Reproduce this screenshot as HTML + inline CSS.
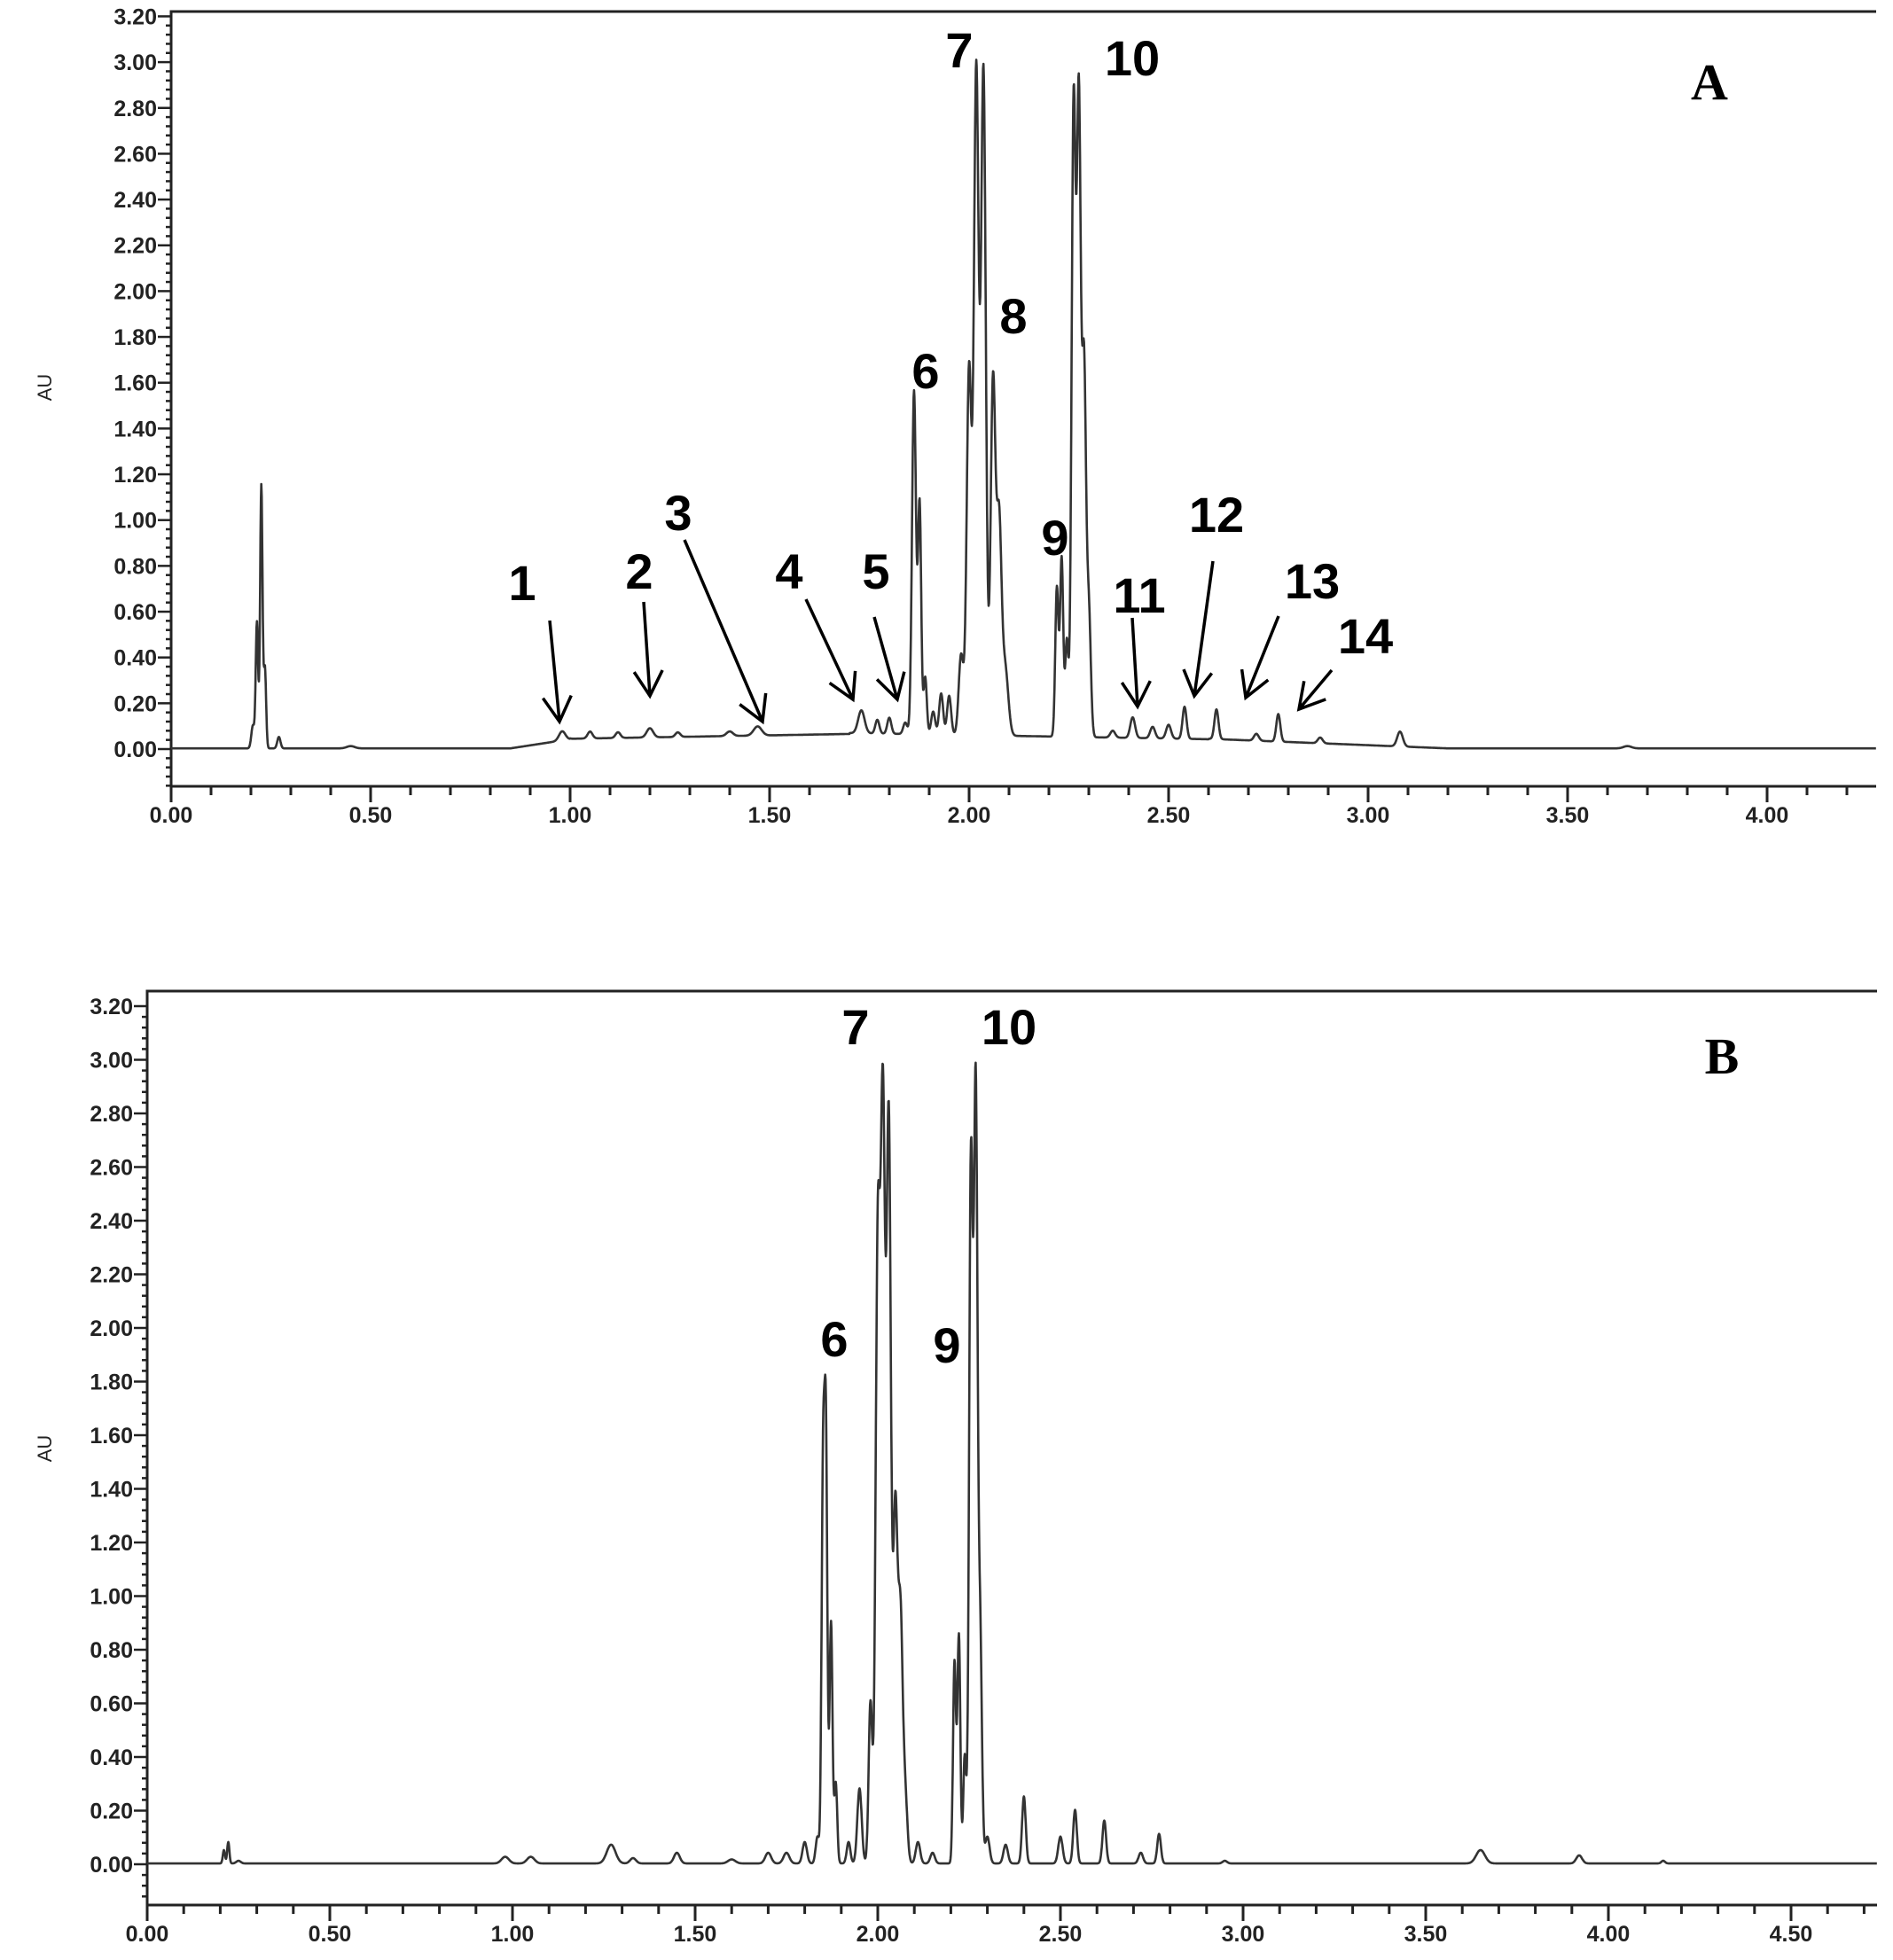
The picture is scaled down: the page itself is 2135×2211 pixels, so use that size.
<!DOCTYPE html>
<html><head><meta charset="utf-8">
<style>
html,body{margin:0;padding:0;background:#fff;}
svg{display:block;}
.tl{font-family:"Liberation Sans",sans-serif;font-weight:bold;font-size:25px;fill:#222;}
.pk{font-family:"Liberation Sans",sans-serif;font-weight:bold;font-size:56px;fill:#000;}
.pl{font-family:"Liberation Serif",serif;font-weight:bold;font-size:58px;fill:#000;}
</style></head>
<body>
<svg id="s" width="2135" height="2211" viewBox="0 0 2135 2211" xmlns="http://www.w3.org/2000/svg">
<g id="g"></g>
<text class="pk" x="589" y="677" text-anchor="middle">1</text>
<text class="pk" x="721" y="664" text-anchor="middle">2</text>
<text class="pk" x="765" y="598" text-anchor="middle">3</text>
<text class="pk" x="890" y="664" text-anchor="middle">4</text>
<text class="pk" x="988" y="664" text-anchor="middle">5</text>
<text class="pk" x="1044" y="438" text-anchor="middle">6</text>
<text class="pk" x="1082" y="76" text-anchor="middle">7</text>
<text class="pk" x="1143" y="376" text-anchor="middle">8</text>
<text class="pk" x="1190" y="626" text-anchor="middle">9</text>
<text class="pk" x="1277" y="85" text-anchor="middle">10</text>
<text class="pk" x="1285" y="691" text-anchor="middle">11</text>
<text class="pk" x="1372" y="600" text-anchor="middle">12</text>
<text class="pk" x="1480" y="675" text-anchor="middle">13</text>
<text class="pk" x="1540" y="737" text-anchor="middle">14</text>
<text class="pl" x="1928" y="112" text-anchor="middle">A</text>
<text class="pk" x="941" y="1530" text-anchor="middle">6</text>
<text class="pk" x="965" y="1178" text-anchor="middle">7</text>
<text class="pk" x="1138" y="1178" text-anchor="middle">10</text>
<text class="pk" x="1068" y="1537" text-anchor="middle">9</text>
<text class="pl" x="1942" y="1211" text-anchor="middle">B</text>
</svg>
<script>
(function(){
var g=document.getElementById('g');var NS='http://www.w3.org/2000/svg';
function el(n,a,t){var e=document.createElementNS(NS,n);for(var k in a)e.setAttribute(k,a[k]);if(t!==undefined)e.textContent=t;g.appendChild(e);return e;}
function panel(P){
 var X=function(t){return P.x0+P.kx*t;},Y=function(v){return P.y0-P.ky*v;};
 el('path',{d:'M'+P.x0+' '+P.bot+' V'+P.top+' H'+P.xr+' M'+P.x0+' '+P.bot+' H'+P.xr,stroke:'#222','stroke-width':3,fill:'none'});
 for(var i=-4;i<=80;i++){var v=i*0.04;var y=Y(v);if(y>P.bot+1||y<P.top-1)continue;
  var maj=(i%5===0);el('line',{x1:P.x0-(maj?15:6),x2:P.x0,y1:y,y2:y,stroke:'#222','stroke-width':2.5});
  if(maj&&v>=-0.001){el('text',{'class':'tl',x:P.x0-16,y:y+9,'text-anchor':'end'},v.toFixed(2));}}
 for(var i=0;i<=50;i++){var t=i*0.1;var x=X(t);if(x>P.xr+1)break;var maj=(i%5===0);
  el('line',{x1:x,x2:x,y1:P.bot,y2:P.bot+(maj?18:10),stroke:'#222','stroke-width':3});
  if(maj)el('text',{'class':'tl',x:x,y:P.bot+41,'text-anchor':'middle'},t.toFixed(2));}
 el('text',{'class':'tl',x:0,y:0,transform:'translate(58,'+P.auy+') rotate(-90)','text-anchor':'middle',style:'font-weight:normal;font-size:22px'},'AU');
 var d='';var tmax=(P.xr-P.x0)/P.kx;
 for(var t=0;t<=tmax;t+=0.001){var v=P.base(t);
  for(var j=0;j<P.pk.length;j++){var p=P.pk[j];var z=(t-p[0])/p[2];if(Math.abs(z)<6)v+=p[1]*Math.exp(-0.5*z*z);}
  d+=(d?'L':'M')+X(t).toFixed(1)+' '+Y(v).toFixed(1);}
 el('path',{d:d,stroke:'#333','stroke-width':2.6,fill:'none','stroke-linejoin':'round'});
}
var A={x0:193,kx:450,y0:845,ky:258.3,top:13,bot:887,xr:2116,auy:437,
 base:function(t){if(t<0.85)return 0.003;if(t<1.0)return 0.003+(t-0.85)/0.15*0.04;if(t<1.7)return 0.045+ (t-1)*0.03;if(t<2.6)return 0.07-(t-1.7)*0.03;if(t<3.2)return 0.045-(t-2.6)*0.07;return 0.003;},
 pk:[[0.205,0.1,0.004],[0.215,0.55,0.003],[0.226,1.15,0.003],[0.235,0.35,0.003],[0.27,0.05,0.004],[0.45,0.01,0.01],
 [0.98,0.04,0.008],[1.05,0.03,0.006],[1.12,0.025,0.006],[1.2,0.04,0.008],[1.27,0.02,0.006],[1.4,0.02,0.008],[1.47,0.04,0.01],
 [1.73,0.1,0.008],[1.77,0.06,0.005],[1.8,0.07,0.005],[1.84,0.05,0.005],
 [1.862,1.5,0.005],[1.876,1.0,0.004],[1.89,0.25,0.004],[1.91,0.1,0.005],[1.93,0.18,0.005],[1.95,0.17,0.005],[1.98,0.35,0.006],
 [2.0,1.6,0.006],[2.018,2.9,0.006],[2.036,2.9,0.006],[2.06,1.55,0.006],[2.075,0.9,0.006],[2.09,0.3,0.008],
 [2.22,0.65,0.004],[2.232,0.78,0.004],[2.245,0.42,0.004],[2.262,2.75,0.005],[2.275,2.75,0.005],[2.288,1.6,0.005],[2.3,0.55,0.005],
 [2.36,0.03,0.006],[2.41,0.09,0.006],[2.46,0.05,0.006],[2.5,0.06,0.006],[2.54,0.14,0.005],[2.62,0.13,0.005],[2.72,0.03,0.006],[2.775,0.12,0.005],[2.88,0.025,0.006],[3.08,0.065,0.007],[3.65,0.01,0.01]]};
var B={x0:166,kx:412,y0:2103,ky:302.5,top:1118,bot:2149,xr:2117,auy:1634,
 base:function(t){return 0.003;},
 pk:[[0.21,0.05,0.003],[0.222,0.08,0.003],[0.25,0.01,0.006],[0.98,0.025,0.01],[1.05,0.025,0.01],[1.27,0.07,0.012],[1.33,0.02,0.008],[1.45,0.04,0.008],[1.6,0.015,0.01],
 [1.7,0.04,0.008],[1.75,0.04,0.008],[1.8,0.08,0.006],[1.835,0.1,0.005],
 [1.85,1.4,0.004],[1.858,1.55,0.004],[1.872,0.9,0.004],[1.885,0.3,0.004],[1.92,0.08,0.005],[1.95,0.28,0.006],[1.98,0.6,0.005],
 [2.0,2.3,0.006],[2.014,2.75,0.006],[2.03,2.75,0.006],[2.048,1.3,0.006],[2.062,0.9,0.006],[2.075,0.25,0.006],[2.11,0.08,0.006],[2.15,0.04,0.006],
 [2.21,0.75,0.004],[2.222,0.85,0.004],[2.238,0.4,0.004],[2.255,2.6,0.005],[2.268,2.85,0.005],[2.28,0.85,0.005],[2.3,0.1,0.006],
 [2.35,0.07,0.006],[2.4,0.25,0.005],[2.5,0.1,0.006],[2.54,0.2,0.005],[2.62,0.16,0.005],[2.72,0.04,0.006],[2.77,0.11,0.005],[2.95,0.01,0.006],[3.65,0.05,0.012],[3.92,0.03,0.008],[4.15,0.01,0.005]]};
panel(A);panel(B);
var arr=[[620,700,631,814],[726,679,733,785],[772,609,860,814],[909,676,962,789],[986,696,1012,789],[1277,697,1283,797],[1368,633,1347,785],[1442,695,1405,787],[1502,756,1465,800]];
arr.forEach(function(a){var dx=a[2]-a[0],dy=a[3]-a[1],L=Math.sqrt(dx*dx+dy*dy),ux=dx/L,uy=dy/L,h=28,w=16;
 var p1=[a[2]-ux*h-uy*w,a[3]-uy*h+ux*w],p2=[a[2]-ux*h+uy*w,a[3]-uy*h-ux*w];
 el('path',{d:'M'+a[0]+' '+a[1]+' L'+a[2]+' '+a[3]+' M'+p1[0]+' '+p1[1]+' L'+a[2]+' '+a[3]+' L'+p2[0]+' '+p2[1],stroke:'#000','stroke-width':3.5,fill:'none'});});
})();
</script>
</body></html>
